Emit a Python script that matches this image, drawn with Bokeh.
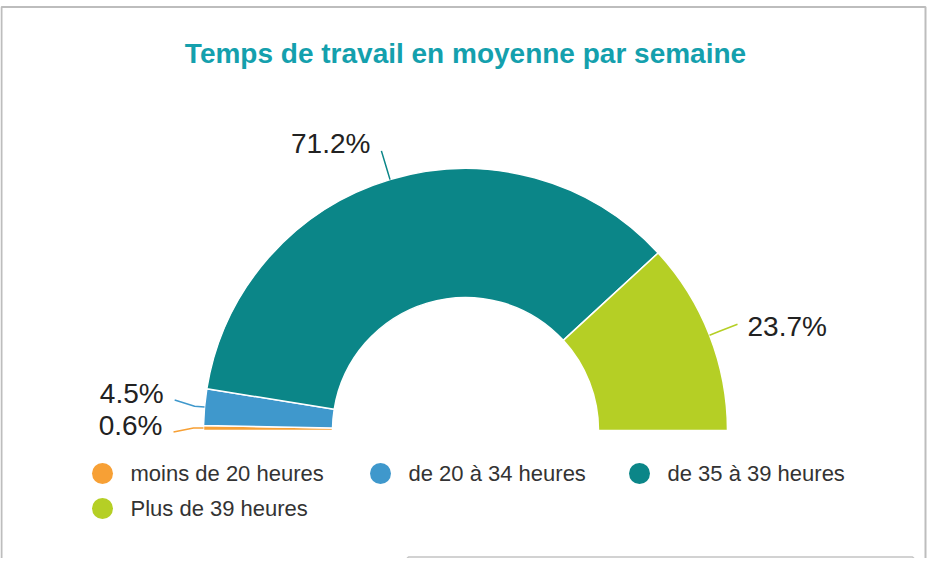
import numpy as np
from bokeh.plotting import figure
from bokeh.models import Range1d, ColumnDataSource
from bokeh.core.properties import value
from bokeh.embed import file_html
from bokeh.resources import INLINE

# ---- data ----
title = "Temps de travail en moyenne par semaine"
categories = ["moins de 20 heures", "de 20 à 34 heures", "de 35 à 39 heures", "Plus de 39 heures"]
values = [0.6, 4.5, 71.2, 23.7]
colors = ["#f7a035", "#3f98cc", "#0b8688", "#b5cf25"]

# ---- layout constants (pixels, data units == pixels) ----
W, H = 930, 558
CX, CY = 465, H - 430
R_OUT, R_IN = 262, 133
FONT = "Liberation Sans"

p = figure(width=W, height=H, x_range=Range1d(0, W), y_range=Range1d(0, H),
           output_backend="svg", toolbar_location=None, min_border=0,
           x_axis_type=None, y_axis_type=None)
p.grid.visible = False
p.outline_line_color = None
p.background_fill_color = "white"
p.border_fill_color = "white"

# border frame
p.line([1, 1, 925, 925], [-10, H - 6.5, H - 6.5, -10], line_color="#bdbdbd", line_width=2)
# top edge of the next panel peeking in at the bottom
p.line([405, 405, 408, 912, 915, 915], [-5, -1.5, 1.5, 1.5, -1.5, -5],
       line_color="#c4c4c4", line_width=1.5)

# angles: semicircle from 180 deg (left) clockwise to 0 deg (right)
vals = np.array(values, dtype=float)
cum = np.cumsum(vals) / vals.sum()
prev = np.concatenate([[0.0], cum[:-1]])
a_hi = np.pi - prev * np.pi
a_lo = np.pi - cum * np.pi
mid = (a_hi + a_lo) / 2

src = ColumnDataSource(dict(start=a_lo, end=a_hi, color=colors))
p.annular_wedge(x=CX, y=CY, inner_radius=R_IN, outer_radius=R_OUT,
                start_angle="start", end_angle="end", color="color",
                line_color="white", line_width=1.5, source=src)

# data labels with connectors
sx = CX + R_OUT * np.cos(mid)
sy = CY + R_OUT * np.sin(mid)
mx = CX + (R_OUT + 10) * np.cos(mid)
my = CY + (R_OUT + 10) * np.sin(mid)
ex = CX + (R_OUT + 30) * np.cos(mid)
ey = CY + (R_OUT + 30) * np.sin(mid)
left = np.cos(mid) < 0
ly = ey + np.where(left, 7.0, -2.0)

# simple collision avoidance on each side
MIN_GAP = 32
for side in (True, False):
    idx = [i for i in range(len(vals)) if left[i] == side]
    idx.sort(key=lambda i: -ly[i])
    for _ in range(10):
        for a, b in zip(idx, idx[1:]):
            if ly[a] - ly[b] < MIN_GAP:
                m = (ly[a] + ly[b]) / 2
                ly[a] = m + MIN_GAP / 2
                ly[b] = m - MIN_GAP / 2
ey2 = ly - np.where(left, 7.0, -2.0)

for i in range(len(vals)):
    p.line([sx[i], mx[i], ex[i]], [sy[i], my[i], ey2[i]], line_color=colors[i], line_width=1.5)

labels = [f"{v}%" for v in values]
tx = np.where(left, ex - 11, ex + 10)
lsrc = ColumnDataSource(dict(x=tx, y=ly, t=labels,
                             align=["right" if l else "left" for l in left]))
p.text(x="x", y="y", text="t", text_align="align", text_baseline="middle",
       text_font=value(FONT), text_font_size="28px", text_color="#222222", source=lsrc)

# title
p.text(x=[CX], y=[H - 53], text=[title], text_align="center", text_baseline="middle",
       text_font=value(FONT), text_font_style="bold", text_font_size="28px",
       text_color="#14a0ad")

# legend (manual)
leg_x = [102, 380, 639, 102]
leg_y = [H - 473, H - 473, H - 473, H - 508]
p.scatter(x=leg_x, y=leg_y, size=21, marker="circle", color=colors, line_color=None)
p.text(x=[x + 28 for x in leg_x], y=leg_y, text=categories, text_align="left",
       text_baseline="middle", text_font=value(FONT), text_font_size="22px",
       text_color="#333333")

open("out.html", "w").write(file_html(p, INLINE))
